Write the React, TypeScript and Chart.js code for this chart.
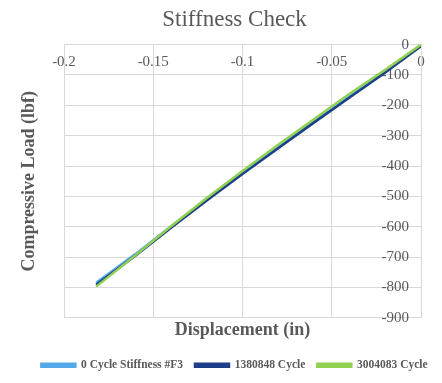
import React, { useEffect, useRef } from "react";
import { Chart, registerables } from "chart.js";

Chart.register(...registerables);

const TITLE = "Stiffness Check";
const X_TITLE = "Displacement (in)";
const Y_TITLE = "Compressive Load (lbf)";

const SERIES_NAMES = ["0 Cycle Stiffness #F3", "1380848 Cycle", "3004083 Cycle"];
const SERIES_COLORS = ["#55a8e6", "#1d3f8a", "#92d050"];

const DISP = [0, -0.02, -0.04, -0.06, -0.08, -0.1, -0.12, -0.14, -0.16, -0.182];
const LOAD_0 = [-3, -88, -170, -252, -337, -422, -508, -598, -690, -784];
const LOAD_1380848 = [-5, -92, -174, -257, -341, -426, -513, -603, -695, -791];
const LOAD_3004083 = [0, -83, -162, -246, -330, -416, -505, -598, -694, -797];

const X_MIN = -0.2, X_MAX = 0, X_STEP = 0.05;
const Y_MIN = -900, Y_MAX = 0, Y_STEP = 100;

const FONT = "'Liberation Serif', 'Times New Roman', serif";
const TEXT = "#595959";
const GRID = "#d9d9d9";

export default function App() {
  const ref = useRef<HTMLCanvasElement | null>(null);
  useEffect(() => {
    document.body.style.margin = "0";
    const loads = [LOAD_0, LOAD_1380848, LOAD_3004083];
    const chart = new Chart(ref.current!, {
      type: "scatter",
      data: {
        datasets: SERIES_NAMES.map((name, i) => ({
          label: name,
          data: DISP.map((x, j) => ({ x, y: loads[i][j] })),
          showLine: true,
          borderColor: SERIES_COLORS[i],
          backgroundColor: SERIES_COLORS[i],
          borderWidth: 2.5,
          pointRadius: 0,
          order: 3 - i,
        })),
      },
      options: {
        animation: false,
        responsive: false,
        layout: { padding: { left: 27, right: 0, top: 0, bottom: 2 } },
        plugins: {
          title: {
            display: true,
            text: TITLE,
            color: TEXT,
            font: { family: FONT, size: 23, weight: "normal" },
            padding: { top: 6, bottom: 11 },
          },
          legend: {
            position: "bottom",
            labels: {
              color: TEXT,
              font: { family: FONT, size: 11.5, weight: "bold" },
              boxWidth: 34,
              boxHeight: 3,
              padding: 12,
              sort: (a: any, b: any) => a.datasetIndex - b.datasetIndex,
            },
          },
          tooltip: { enabled: false },
        },
        scales: {
          x: {
            type: "linear",
            position: "top",
            min: X_MIN,
            max: X_MAX,
            afterFit: (s: any) => { s.height = 0; },
            grid: { color: GRID, drawTicks: false },
            border: { color: GRID },
            ticks: {
              stepSize: X_STEP,
              mirror: true,
              padding: 8,
              color: TEXT,
              font: { family: FONT, size: 15 },
              maxRotation: 0,
              callback: (v: any) => String(Math.round(Number(v) * 100) / 100),
            },
          },
          y: {
            type: "linear",
            position: "right",
            min: Y_MIN,
            max: Y_MAX,
            afterFit: (s: any) => { s.width = 21; },
            grid: { color: GRID, drawTicks: false },
            border: { color: GRID },
            ticks: {
              stepSize: Y_STEP,
              mirror: true,
              padding: -12,
              color: TEXT,
              font: { family: FONT, size: 15 },
            },
          },
          xTitle: {
            type: "linear",
            position: "bottom",
            display: true,
            grid: { display: false, drawTicks: false },
            border: { display: false },
            ticks: { display: false },
            title: {
              display: true,
              text: X_TITLE,
              color: TEXT,
              font: { family: FONT, size: 18, weight: "bold" },
              padding: { top: 2, bottom: 6 },
            },
          },
          yTitle: {
            type: "linear",
            position: "left",
            display: true,
            afterFit: (s: any) => { s.width = 37; },
            grid: { display: false, drawTicks: false },
            border: { display: false },
            ticks: { display: false },
            title: {
              display: true,
              text: Y_TITLE,
              color: TEXT,
              font: { family: FONT, size: 18, weight: "bold" },
              padding: { top: -8, bottom: 0 },
            },
          },
        },
      } as any,
    });
    return () => chart.destroy();
  }, []);
  return (
    <div style={{ width: 442, height: 383 }}>
      <canvas ref={ref} width={442} height={383} style={{ width: 442, height: 383 }} />
    </div>
  );
}
